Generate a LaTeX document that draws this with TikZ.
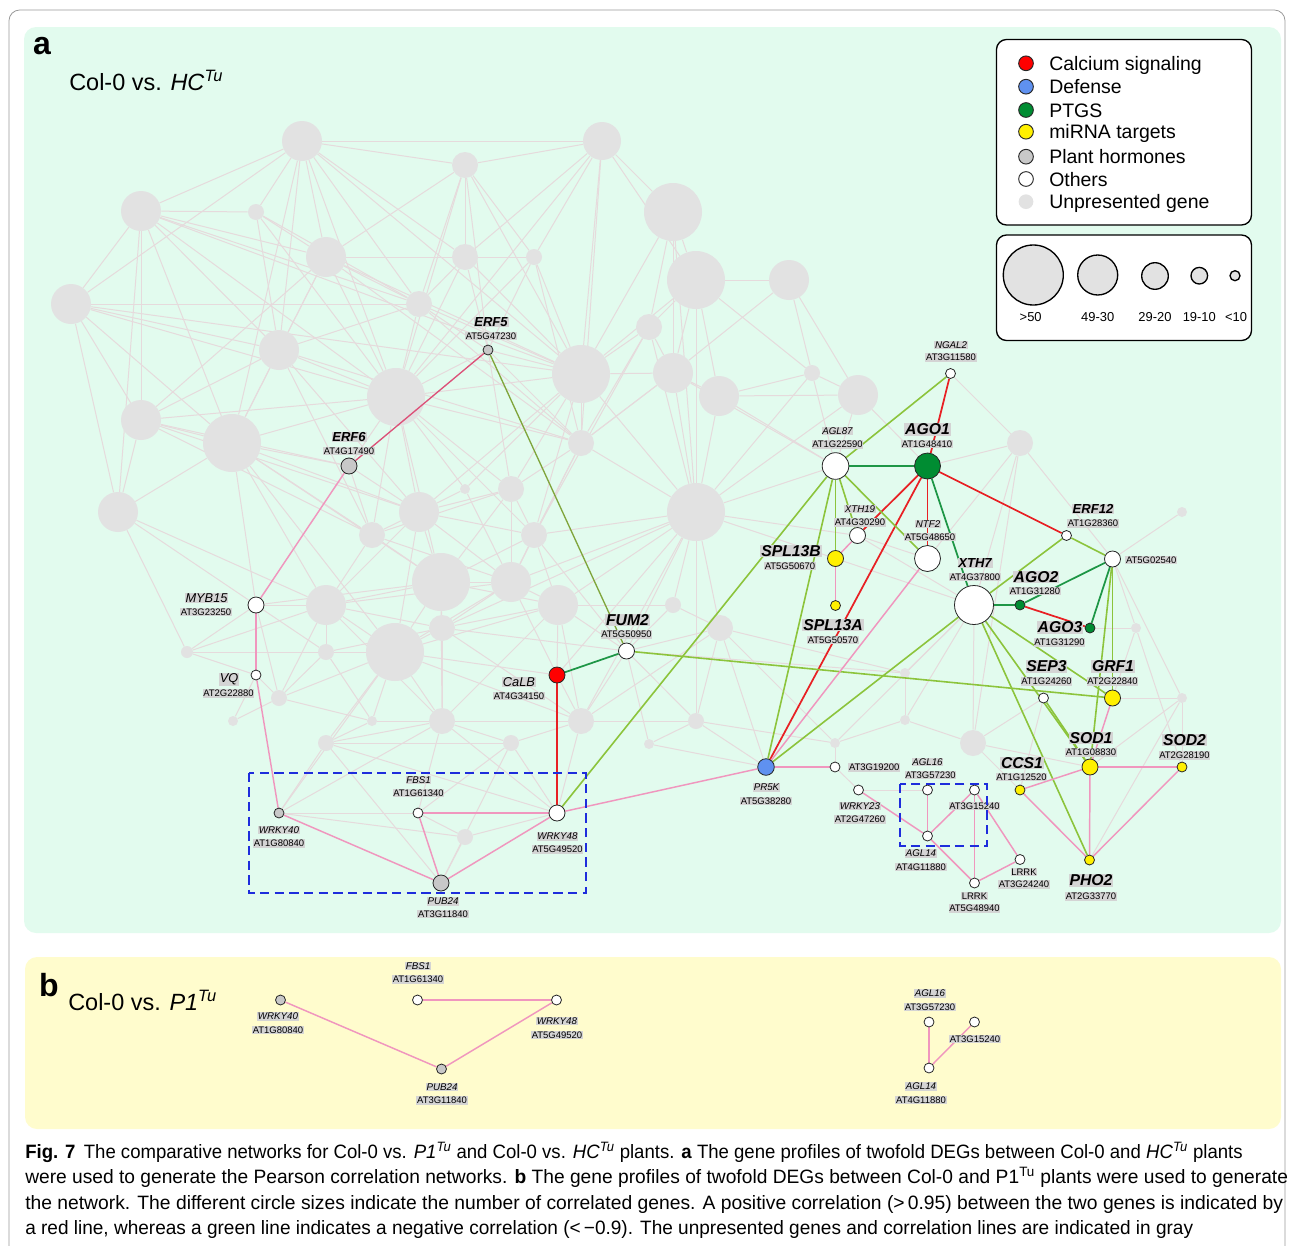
\documentclass[tikz,border=0pt]{standalone}
\usepackage{fontspec}
\setmainfont{Liberation Sans}
\newfontfamily\capfont{Liberation Sans}
\usepackage{graphicx}
\pgfdeclarelayer{panel}
\pgfdeclarelayer{gedge}
\pgfdeclarelayer{gnode}
\pgfdeclarelayer{cedge}
\pgfsetlayers{panel,gedge,gnode,cedge,main}
\definecolor{panelA}{RGB}{226,251,238}
\definecolor{panelB}{RGB}{255,252,205}
\definecolor{gnodec}{RGB}{226,226,226}
\definecolor{gedgec}{RGB}{230,218,220}
\definecolor{redl}{RGB}{232,32,36}
\definecolor{dgreen}{RGB}{30,150,70}
\definecolor{lgreen}{RGB}{140,196,60}
\definecolor{olivel}{RGB}{128,165,60}
\definecolor{pinkl}{RGB}{240,150,190}
\definecolor{crim}{RGB}{220,80,120}
\definecolor{fred}{RGB}{255,0,0}
\definecolor{fgreen}{RGB}{0,140,50}
\definecolor{fblue}{RGB}{95,145,240}
\definecolor{fyellow}{RGB}{255,240,0}
\definecolor{fgray}{RGB}{200,200,200}
\definecolor{lblbg}{RGB}{212,212,212}
\definecolor{dashblue}{RGB}{30,45,220}
\begin{document}
\begin{tikzpicture}[x=0.75pt,y=-0.75pt,
  gn/.style={circle,fill=gnodec,inner sep=0pt,minimum size=#1*1.5pt},
  cn/.style 2 args={circle,draw=black!85,line width=0.6pt,fill=#1,inner sep=0pt,minimum size=#2*1.5pt},
  lbl/.style={fill=lblbg,inner xsep=0.6pt,inner ysep=0.6pt},
  gid/.style={lbl,font=\fontsize{7.1}{8}\selectfont},
  gsn/.style={lbl,font=\fontsize{7.3}{8}\selectfont\itshape},
  gmn/.style={lbl,font=\fontsize{9.6}{11}\selectfont\itshape},
  gmb/.style={lbl,font=\fontsize{9.8}{11}\selectfont\bfseries\itshape},
  gbn/.style={lbl,font=\fontsize{11.8}{13}\selectfont\bfseries\itshape},
  eg/.style={draw=gedgec,line width=0.75pt},
  er/.style={draw=redl,line width=1.3pt},
  ecr/.style={draw=crim,line width=1pt},
  edg/.style={draw=dgreen,line width=1.3pt},
  elg/.style={draw=lgreen,line width=1.2pt},
  eol/.style={draw=olivel,line width=1pt},
  epk/.style={draw=pinkl,line width=1.1pt},
  dashbox/.style={draw=dashblue,line width=1.5pt,dash pattern=on 7pt off 4pt},
  legtxt/.style={anchor=base west,inner sep=0pt,font=\fontsize{14.6}{16}\selectfont},
  legdot/.style={circle,draw=black!85,line width=0.7pt,inner sep=0pt,minimum size=11pt,fill=#1},
  sizedot/.style={circle,draw=black,line width=1pt,inner sep=0pt,fill=gnodec,minimum size=#1*1.5pt},
  sizetxt/.style={inner sep=0pt,font=\fontsize{9.7}{11}\selectfont},
  captxt/.style={anchor=base west,inner sep=0pt,font=\capfont\fontsize{14.5}{16}\selectfont}
]
\useasboundingbox (0,0) rectangle (1293,1246);

% panels
\begin{pgfonlayer}{panel}
\draw[black!40,line width=0.6pt,rounded corners=8pt] (9,10) rectangle (1285,1290);
\fill[panelA,rounded corners=9pt] (24,27) rectangle (1281,933);
\fill[panelB,rounded corners=9pt] (25,957) rectangle (1281,1129);
\end{pgfonlayer}

\node[font=\fontsize{24}{26}\selectfont\bfseries,inner sep=0pt] (pa) at (42,46) {a};
\node[anchor=base west,inner sep=0pt,font=\fontsize{17.6}{20}\selectfont] (ttlA) at (69,90) {Col-0 vs. \textit{HC}\textsuperscript{\textit{Tu}}};
\node[font=\fontsize{24}{26}\selectfont\bfseries,inner sep=0pt] (pb) at (49,985) {b};
\node[anchor=base west,inner sep=0pt,font=\fontsize{17.6}{20}\selectfont] (ttlB) at (68,1010) {Col-0 vs. \textit{P1}\textsuperscript{\textit{Tu}}};

% gray nodes
\begin{pgfonlayer}{gnode}
\node[gn=20] (g1) at (302,141) {};
\node[gn=13] (g2) at (465,165) {};
\node[gn=19] (g3) at (602,141) {};
\node[gn=20] (g4) at (141,211) {};
\node[gn=8] (g5) at (256,212) {};
\node[gn=20] (g6) at (326,257) {};
\node[gn=13] (g7) at (465,257) {};
\node[gn=8] (g8) at (534,257) {};
\node[gn=20] (g9) at (71,304) {};
\node[gn=13] (g10) at (419,304) {};
\node[gn=20] (g11) at (279,350) {};
\node[gn=29] (g12) at (581,374) {};
\node[gn=29] (g13) at (396,397) {};
\node[gn=20] (g14) at (141,420) {};
\node[gn=29] (g15) at (232,443) {};
\node[gn=13] (g16) at (581,443) {};
\node[gn=5] (g17) at (465,489) {};
\node[gn=13] (g18) at (511,489) {};
\node[gn=20] (g19) at (118,512) {};
\node[gn=20] (g20) at (419,512) {};
\node[gn=13] (g21) at (372,535) {};
\node[gn=13] (g22) at (534,535) {};
\node[gn=29] (g23) at (441,582) {};
\node[gn=20] (g24) at (511,582) {};
\node[gn=29] (g25) at (673,212) {};
\node[gn=29] (g26) at (696,280) {};
\node[gn=20] (g27) at (789,280) {};
\node[gn=13] (g28) at (649,327) {};
\node[gn=20] (g29) at (673,373) {};
\node[gn=20] (g30) at (719,396) {};
\node[gn=8] (g31) at (812,373) {};
\node[gn=20] (g32) at (858,395) {};
\node[gn=29] (g33) at (696,512) {};
\node[gn=20] (g34) at (326,605) {};
\node[gn=20] (g35) at (558,605) {};
\node[gn=8] (g36) at (673,605) {};
\node[gn=13] (g37) at (442,628) {};
\node[gn=29] (g38) at (395,652) {};
\node[gn=8] (g39) at (326,652) {};
\node[gn=6] (g40) at (187,652) {};
\node[gn=13] (g41) at (720,628) {};
\node[gn=8] (g42) at (279,698) {};
\node[gn=5] (g43) at (233,721) {};
\node[gn=5] (g44) at (372,721) {};
\node[gn=13] (g45) at (442,721) {};
\node[gn=13] (g46) at (581,721) {};
\node[gn=8] (g47) at (696,721) {};
\node[gn=5] (g48) at (649,744) {};
\node[gn=8] (g49) at (326,743) {};
\node[gn=8] (g50) at (511,743) {};
\node[gn=8] (g51) at (465,837) {};
\node[gn=13] (g52) at (1020,443) {};
\node[gn=5] (g53) at (905,673) {};
\node[gn=5] (g54) at (905,720) {};
\node[gn=5] (g55) at (835,743) {};
\node[gn=13] (g56) at (973,743) {};
\node[gn=5] (g57) at (1136,628) {};
\node[gn=5] (g58) at (1182,698) {};
\node[gn=5] (g59) at (1182,512) {};
\end{pgfonlayer}

% colored nodes, panel a
\node[cn={fgray}{5}] (ERF5) at (488,350) {};
\node[gmb] (ERF5n) at (491,322) {ERF5};
\node[gid] (ERF5i) at (491,336) {AT5G47230};
\node[cn={fgray}{8}] (ERF6) at (349,466) {};
\node[gmb] (ERF6n) at (349,437) {ERF6};
\node[gid] (ERF6i) at (349,451) {AT4G17490};
\node[cn={white}{8}] (MYB15) at (256,605) {};
\node[gmn] (MYB15n) at (206.5,598) {MYB15};
\node[gid] (MYB15i) at (206,612) {AT3G23250};
\node[cn={white}{5}] (VQ) at (256,675) {};
\node[gmn] (VQn) at (229,679.5) {VQ};
\node[gid] (VQi) at (228.5,693.5) {AT2G22880};
\node[cn={fgray}{5}] (WRKY40) at (279,813) {};
\node[gsn] (WRKY40n) at (279,830) {WRKY40};
\node[gid] (WRKY40i) at (279,843.5) {AT1G80840};
\node[cn={white}{5}] (FBS1) at (418,813) {};
\node[gsn] (FBS1n) at (418.5,780) {FBS1};
\node[gid] (FBS1i) at (418.5,793) {AT1G61340};
\node[cn={white}{8}] (WRKY48) at (557,813) {};
\node[gsn] (WRKY48n) at (557.5,836.5) {WRKY48};
\node[gid] (WRKY48i) at (557.5,849.5) {AT5G49520};
\node[cn={fgray}{8}] (PUB24) at (441,883) {};
\node[gsn] (PUB24n) at (443,901.5) {PUB24};
\node[gid] (PUB24i) at (443,914) {AT3G11840};
\node[cn={fred}{8}] (CaLB) at (557,675) {};
\node[gmn] (CaLBn) at (519,682) {CaLB};
\node[gid] (CaLBi) at (519,696) {AT4G34150};
\node[cn={white}{8}] (FUM2) at (626.5,651) {};
\node[gbn] (FUM2n) at (627.5,620) {FUM2};
\node[gid] (FUM2i) at (626.5,634.5) {AT5G50950};
\node[cn={fblue}{8.3}] (PR5K) at (766,767) {};
\node[gsn] (PR5Kn) at (766.5,787.5) {PR5K};
\node[gid] (PR5Ki) at (766,801) {AT5G38280};
\node[cn={white}{5}] (N19200) at (835,767) {};
\node[gid,anchor=west] (N19200i) at (848,767.5) {AT3G19200};
\node[cn={white}{5}] (WRKY23) at (858.5,790) {};
\node[gsn] (WRKY23n) at (860,806) {WRKY23};
\node[gid] (WRKY23i) at (860,819.5) {AT2G47260};
\node[cn={white}{5}] (AGL16) at (927.5,790) {};
\node[gsn] (AGL16n) at (927.5,762) {AGL16};
\node[gid] (AGL16i) at (930.5,775) {AT3G57230};
\node[cn={white}{5}] (N15240) at (974.5,790) {};
\node[gid] (N15240i) at (974.5,806) {AT3G15240};
\node[cn={white}{5}] (AGL14) at (927.5,836) {};
\node[gsn] (AGL14n) at (921,853.5) {AGL14};
\node[gid] (AGL14i) at (921,867) {AT4G11880};
\node[cn={white}{5}] (LR1) at (974.5,883) {};
\node[gid] (LR1n) at (974.5,896) {LRRK};
\node[gid] (LR1i) at (974.5,908.5) {AT5G48940};
\node[cn={white}{5}] (LR2) at (1020,859.5) {};
\node[gid] (LR2n) at (1024,872) {LRRK};
\node[gid] (LR2i) at (1024,884.5) {AT3G24240};
\node[cn={fyellow}{5}] (CCS1) at (1020,790) {};
\node[gbn] (CCS1n) at (1022,763) {CCS1};
\node[gid] (CCS1i) at (1021.5,777) {AT1G12520};
\node[cn={fyellow}{8}] (SOD1) at (1090,767) {};
\node[gbn] (SOD1n) at (1091,738) {SOD1};
\node[gid] (SOD1i) at (1091,752.5) {AT1G08830};
\node[cn={fyellow}{5}] (SOD2) at (1182,767) {};
\node[gbn] (SOD2n) at (1184.5,740) {SOD2};
\node[gid] (SOD2i) at (1184.5,755.5) {AT2G28190};
\node[cn={fyellow}{5}] (PHO2) at (1089.5,860) {};
\node[gbn] (PHO2n) at (1091,880.5) {PHO2};
\node[gid] (PHO2i) at (1091,896.5) {AT2G33770};
\node[cn={white}{5}] (SEP3) at (1043.5,698) {};
\node[gbn] (SEP3n) at (1046.5,666.5) {SEP3};
\node[gid] (SEP3i) at (1046.5,681.5) {AT1G24260};
\node[cn={fyellow}{8}] (GRF1) at (1112.5,698) {};
\node[gbn] (GRF1n) at (1113,666.5) {GRF1};
\node[gid] (GRF1i) at (1112.5,681.5) {AT2G22840};
\node[cn={fgreen}{5}] (AGO3) at (1090,628) {};
\node[gbn] (AGO3n) at (1060,627.5) {AGO3};
\node[gid] (AGO3i) at (1059.5,642.5) {AT1G31290};
\node[cn={fgreen}{5}] (AGO2) at (1020,605) {};
\node[gbn] (AGO2n) at (1036,577) {AGO2};
\node[gid] (AGO2i) at (1035,591) {AT1G31280};
\node[cn={white}{19.5}] (XTH7) at (974,605) {};
\node[gmb] (XTH7n) at (975,563) {XTH7};
\node[gid] (XTH7i) at (975,577) {AT4G37800};
\node[cn={white}{8}] (N02540) at (1112.5,559) {};
\node[gid,anchor=west] (N02540i) at (1125,560) {AT5G02540};
\node[cn={white}{5}] (ERF12) at (1066.5,535.5) {};
\node[gmb] (ERF12n) at (1093,509) {ERF12};
\node[gid] (ERF12i) at (1093,523.5) {AT1G28360};
\node[cn={fgreen}{13}] (AGO1) at (927.5,466) {};
\node[gbn] (AGO1n) at (927.5,429.5) {AGO1};
\node[gid] (AGO1i) at (927,444) {AT1G48410};
\node[cn={white}{13.3}] (AGL87) at (835.5,466) {};
\node[gsn] (AGL87n) at (837.5,431) {AGL87};
\node[gid] (AGL87i) at (837.5,444.5) {AT1G22590};
\node[cn={white}{5}] (NGAL2) at (950.5,373.5) {};
\node[gsn] (NGAL2n) at (951,345) {NGAL2};
\node[gid] (NGAL2i) at (951,357.5) {AT3G11580};
\node[cn={white}{8}] (XTH19) at (857.5,535.5) {};
\node[gsn] (XTH19n) at (860,509) {XTH19};
\node[gid] (XTH19i) at (860,522.5) {AT4G30290};
\node[cn={white}{13}] (NTF2) at (927.5,558.5) {};
\node[gsn] (NTF2n) at (928,524) {NTF2};
\node[gid] (NTF2i) at (930,537) {AT5G48650};
\node[cn={fyellow}{8}] (SPL13B) at (835.5,558.5) {};
\node[gbn] (SPL13Bn) at (791,551) {SPL13B};
\node[gid] (SPL13Bi) at (790,566) {AT5G50670};
\node[cn={fyellow}{5}] (SPL13A) at (835.5,605.5) {};
\node[gbn] (SPL13An) at (833,625) {SPL13A};
\node[gid] (SPL13Ai) at (833,640) {AT5G50570};

% gray edges
\begin{pgfonlayer}{gedge}
\foreach \a/\b in {g1/g2,g1/g3,g1/g4,g1/g6,g1/g9,g1/g11,g1/g13,g1/g10,g1/g15,g1/g7,g1/g12,g1/g5,
g2/g3,g2/g7,g2/g10,g2/g6,g2/g8,g2/g12,g2/ERF5,g2/g13,
g3/g8,g3/g12,g3/g25,g3/g7,g3/g26,g3/g13,g3/g16,
g4/g5,g4/g9,g4/g11,g4/g14,g4/g10,g4/g13,g4/g15,g4/g19,g4/g6,g4/g12,
g5/g6,g5/g10,g5/g13,g5/g11,
g6/g7,g6/g10,g6/g11,g6/g12,g6/g13,g6/g14,g6/g15,g6/g8,g6/g16,
g7/g10,g7/ERF5,g7/g8,g7/g12,g7/g13,
g8/g12,g8/g16,g8/g13,g8/ERF5,
g9/g10,g9/g11,g9/g14,g9/g19,g9/g13,g9/g15,g9/g12,
g10/g12,g10/g13,g10/g11,g10/ERF5,g10/g16,
g11/g13,g11/g14,g11/g15,g11/g20,g11/g21,g11/g16,
g12/g16,g12/ERF5,g12/g13,g12/g25,g12/g29,g12/g18,g12/g22,g12/g33,g12/g28,g12/g26,g12/g20,
g13/g15,g13/g14,g13/ERF6,g13/g20,g13/g17,g13/g18,g13/g16,g13/ERF5,g13/g23,g13/g22,g13/g21,
g14/g15,g14/g19,g14/ERF6,g14/g21,g14/g20,
g15/g19,g15/g21,g15/g20,g15/ERF6,g15/MYB15,g15/g34,g15/g23,g15/g38,
g16/g18,g16/g22,g16/g24,g16/g33,g16/ERF5,g16/g29,
g17/g20,g17/g24,g17/g12,
g18/g20,g18/g22,g18/g24,g18/g23,g18/ERF5,g18/g21,
g19/MYB15,g19/g34,g19/g40,
g20/g21,g20/g23,g20/g24,g20/g22,g20/ERF6,g20/g34,g20/g38,
g21/g23,g21/g34,g21/g24,g21/ERF6,
g22/g24,g22/g35,g22/g23,g22/g33,g22/FUM2,
g23/g24,g23/g34,g23/g38,g23/g37,g23/g35,g23/MYB15,g23/g45,
g24/g35,g24/g37,g24/g38,g24/CaLB,g24/g34,
g25/g26,g25/g28,g25/g29,g25/g33,
g26/g27,g26/g29,g26/g30,g26/g28,g26/g31,g26/g33,
g27/g31,g27/g32,g27/g29,
g28/g29,g28/g33,g28/g16,g28/g22,
g29/g30,g29/g33,g29/g16,
g30/g31,g30/g33,g30/g32,
g31/g32,g31/g33,
g32/AGL87,g32/g33,g32/AGO1,
g33/g35,g33/FUM2,g33/g36,g33/g41,g33/CaLB,g33/g24,g33/g46,g33/g47,g33/g37,
g34/g38,g34/g37,g34/g39,g34/MYB15,g34/g42,g34/g45,g34/g40,
g35/g37,g35/CaLB,g35/FUM2,g35/g38,g35/g45,g35/g46,
g36/FUM2,g36/g35,g36/g41,
g37/g38,g37/g45,g37/FUM2,g37/g46,g37/g39,
g38/g39,g38/g44,g38/g45,g38/g46,g38/CaLB,g38/g42,g38/g49,
g39/g40,g39/g42,g39/g44,g39/MYB15,
g40/MYB15,g40/VQ,
g41/FUM2,g41/g47,g41/g46,
g42/MYB15,g42/VQ,
g43/VQ,g43/g42,
g44/g45,g44/g49,g44/g42,
g45/g46,g45/g50,g45/g49,g45/WRKY48,g45/FBS1,g45/WRKY40,
g46/g50,g46/g47,g46/WRKY48,g46/CaLB,g46/FUM2,
g47/FUM2,g47/g48,
g48/FUM2,g48/PR5K,
g49/WRKY40,g49/g50,g49/WRKY48,g49/PUB24,
g50/WRKY48,g50/PUB24,g50/FBS1,
g51/PUB24,g51/FBS1,g51/WRKY48,g51/WRKY40,
WRKY40/WRKY48,WRKY40/g38,
NGAL2/g52,
g52/AGO1,g52/XTH7,g52/N02540,g52/NTF2,g52/g56,
AGL87/g33,AGL87/g30,AGL87/g29,AGL87/g31,
XTH19/g33,XTH19/NTF2,XTH19/XTH7,SPL13B/g33,SPL13B/XTH7,
XTH7/g56,XTH7/g53,XTH7/g54,XTH7/g55,
g53/g54,g53/FUM2,g53/g41,g54/g55,g54/g56,g55/N19200,g55/g41,g55/g47,
g56/CCS1,g56/SEP3,g56/SOD1,
g57/N02540,g57/GRF1,g57/SOD2,g57/AGO3,
g58/GRF1,g58/SOD1,g58/SOD2,g58/N02540,g58/PHO2,
g59/N02540,
WRKY23/AGL16,WRKY23/N19200,
SEP3/CCS1,
PR5K/g41,PR5K/g47}
  \draw[eg] (\a) -- (\b);
\end{pgfonlayer}

% colored edges
\begin{pgfonlayer}{cedge}
\foreach \a/\b in {NGAL2/AGO1,AGO1/ERF12,AGO1/XTH19,AGO1/PR5K,AGO1/NTF2,AGO2/AGO3,CaLB/WRKY48}
  \draw[er] (\a) -- (\b);
\draw[ecr] (ERF5) -- (ERF6);
\foreach \a/\b in {AGL87/AGO1,AGO1/XTH7,XTH7/AGO2,AGO2/N02540,AGO3/N02540,CaLB/FUM2}
  \draw[edg] (\a) -- (\b);
\draw[eol] (ERF5) -- (FUM2);
\foreach \a/\b in {NGAL2/AGL87,FUM2/GRF1,WRKY48/AGL87,AGL87/PR5K,AGL87/SPL13B,AGL87/XTH19,AGL87/NTF2,
XTH7/PR5K,XTH7/ERF12,XTH7/GRF1,XTH7/SOD1,XTH7/PHO2,SEP3/SOD1,ERF12/N02540,N02540/GRF1,N02540/SOD1}
  \draw[elg] (\a) -- (\b);
\foreach \a/\b in {ERF6/MYB15,MYB15/VQ,VQ/WRKY40,WRKY40/PUB24,FBS1/PUB24,FBS1/WRKY48,PUB24/WRKY48,
WRKY48/PR5K,PR5K/N19200,PR5K/NTF2,SPL13B/XTH19,SPL13B/SPL13A,WRKY23/AGL14,AGL16/AGL14,AGL14/N15240,
AGL14/LR1,N15240/LR1,N15240/LR2,LR1/LR2,CCS1/SOD1,CCS1/PHO2,SOD1/SOD2,SOD1/PHO2,SOD2/PHO2,GRF1/SOD1}
  \draw[epk] (\a) -- (\b);
\end{pgfonlayer}

% dashed boxes
\draw[dashbox] (248.5,772.5) rectangle (585.5,893);
\draw[dashbox] (900,783.5) rectangle (987,846);

% legend 1
\draw[black,line width=1pt,rounded corners=7.5pt,fill=white] (996.5,39.5) rectangle (1251.5,225);
\node[legdot=fred] (lg1) at (1026,63.3) {};
\node[legdot=fblue] (lg2) at (1026,86.7) {};
\node[legdot=fgreen] (lg3) at (1026,110) {};
\node[legdot=fyellow] (lg4) at (1026,131.7) {};
\node[legdot=fgray] (lg5) at (1026,156.7) {};
\node[legdot=white] (lg6) at (1026,179) {};
\node[circle,fill=gnodec,inner sep=0pt,minimum size=11pt] (lg7) at (1026,201.7) {};
\node[legtxt] (lt1) at (1049,70.3) {Calcium signaling};
\node[legtxt] (lt2) at (1049,93.7) {Defense};
\node[legtxt] (lt3) at (1049,117) {PTGS};
\node[legtxt] (lt4) at (1049,138.7) {miRNA targets};
\node[legtxt] (lt5) at (1049,163.7) {Plant hormones};
\node[legtxt] (lt6) at (1049,186) {Others};
\node[legtxt] (lt7) at (1049,208.7) {Unpresented gene};

% legend 2
\draw[black,line width=1pt,rounded corners=7.5pt,fill=white] (996.5,235) rectangle (1251.5,340.5);
\node[sizedot=30] (sz1) at (1033.3,275) {};
\node[sizedot=20] (sz2) at (1097.7,275) {};
\node[sizedot=13.3] (sz3) at (1155,276) {};
\node[sizedot=8.3] (sz4) at (1199.3,275.7) {};
\node[sizedot=5] (sz5) at (1235,275.7) {};
\node[sizetxt] (st1) at (1030.7,317.3) {>50};
\node[sizetxt] (st2) at (1097.7,317.3) {49-30};
\node[sizetxt] (st3) at (1155,317.3) {29-20};
\node[sizetxt] (st4) at (1199.3,317.3) {19-10};
\node[sizetxt] (st5) at (1236,317.3) {<10};

% panel b
\node[cn={fgray}{5}] (bWRKY40) at (280.5,1000) {};
\node[gsn] (bWRKY40n) at (278,1016.5) {WRKY40};
\node[gid] (bWRKY40i) at (278,1030) {AT1G80840};
\node[cn={white}{5}] (bFBS1) at (417.5,1000) {};
\node[gsn] (bFBS1n) at (418,966) {FBS1};
\node[gid] (bFBS1i) at (418,979.5) {AT1G61340};
\node[cn={white}{5}] (bWRKY48) at (556.5,1000) {};
\node[gsn] (bWRKY48n) at (557,1021) {WRKY48};
\node[gid] (bWRKY48i) at (557,1035) {AT5G49520};
\node[cn={fgray}{5}] (bPUB24) at (441.5,1069) {};
\node[gsn] (bPUB24n) at (442,1087) {PUB24};
\node[gid] (bPUB24i) at (442,1100.5) {AT3G11840};
\node[cn={white}{5}] (bAGL16) at (929,1022) {};
\node[gsn] (bAGL16n) at (930,993.5) {AGL16};
\node[gid] (bAGL16i) at (930,1007) {AT3G57230};
\node[cn={white}{5}] (b15240) at (974.5,1022) {};
\node[gid] (b15240i) at (975,1039) {AT3G15240};
\node[cn={white}{5}] (bAGL14) at (929,1068) {};
\node[gsn] (bAGL14n) at (921,1086.5) {AGL14};
\node[gid] (bAGL14i) at (921,1100) {AT4G11880};
\begin{pgfonlayer}{cedge}
\foreach \a/\b in {bWRKY40/bPUB24,bPUB24/bWRKY48,bFBS1/bWRKY48,bAGL16/bAGL14,b15240/bAGL14}
  \draw[epk] (\a) -- (\b);
\end{pgfonlayer}

% caption
\node[captxt] (cap1) at (25,1158) {\resizebox{913pt}{\height}{\textbf{Fig. 7}\hspace{0.45em}The comparative networks for Col-0 vs. \textit{P1}\textsuperscript{\textit{Tu}} and Col-0 vs. \textit{HC}\textsuperscript{\textit{Tu}} plants. \textbf{a} The gene profiles of twofold DEGs between Col-0 and \textit{HC}\textsuperscript{\textit{Tu}} plants}};
\node[captxt] (cap2) at (25,1183.5) {\resizebox{947pt}{\height}{were used to generate the Pearson correlation networks. \textbf{b} The gene profiles of twofold DEGs between Col-0 and P1\textsuperscript{Tu} plants were used to generate}};
\node[captxt] (cap3) at (25,1209) {\resizebox{943.5pt}{\height}{the network. The different circle sizes indicate the number of correlated genes. A positive correlation (>\,0.95) between the two genes is indicated by}};
\node[captxt] (cap4) at (25,1234.5) {\resizebox{876pt}{\height}{a red line, whereas a green line indicates a negative correlation (<\,−0.9). The unpresented genes and correlation lines are indicated in gray}};
\end{tikzpicture}
\end{document}
